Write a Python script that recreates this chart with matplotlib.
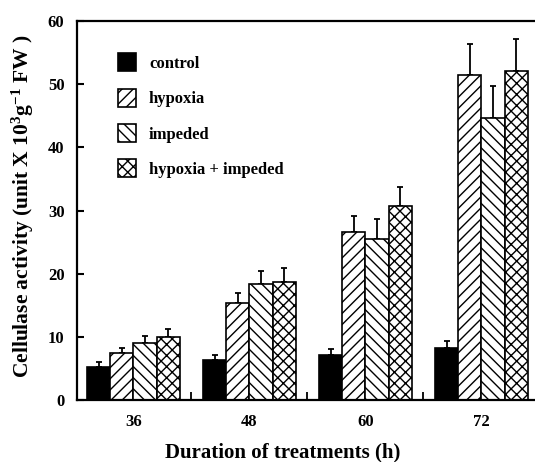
import matplotlib
matplotlib.use("Agg")
import matplotlib.pyplot as plt
import numpy as np
from matplotlib.patches import Patch

plt.rcParams["font.family"] = ["Liberation Serif", "DejaVu Serif"]
plt.rcParams["font.weight"] = "bold"
plt.rcParams["mathtext.fontset"] = "custom"
plt.rcParams["mathtext.rm"] = "Liberation Serif:bold"
plt.rcParams["mathtext.it"] = "Liberation Serif:bold"
plt.rcParams["mathtext.bf"] = "Liberation Serif:bold"
plt.rcParams["hatch.linewidth"] = 1.0

# --- data ---
hours = ["36", "48", "60", "72"]
series = ["control", "hypoxia", "impeded", "hypoxia + impeded"]
control = [5.2, 6.3, 7.2, 8.3]
hypoxia = [7.4, 15.4, 26.6, 51.5]
impeded = [9.0, 18.4, 25.5, 44.7]
both = [10.0, 18.7, 30.8, 52.1]
control_err = [0.8, 0.8, 0.9, 1.0]
hypoxia_err = [0.8, 1.6, 2.6, 4.8]
impeded_err = [1.1, 2.1, 3.1, 5.1]
both_err = [1.2, 2.2, 3.0, 5.1]

means = [control, hypoxia, impeded, both]
errs = [control_err, hypoxia_err, impeded_err, both_err]
hatches = ["", "///", "\\\\\\", "xxx"]
faces = ["black", "white", "white", "white"]

fig = plt.figure(figsize=(5.35, 4.62), dpi=100)
ax = fig.add_axes([0.1439, 0.134, 0.856, 0.8203])

x = np.arange(len(hours))
w = 0.2
for i, (m, e) in enumerate(zip(means, errs)):
    pos = x + (i - 1.5) * w
    ax.bar(pos, m, width=w, color=faces[i], edgecolor="black",
           hatch=hatches[i], linewidth=1.2, zorder=2)
    ax.errorbar(pos, m, yerr=[np.zeros(len(m)), e], fmt="none",
                ecolor="black", elinewidth=1.3, capsize=2.5, capthick=1.3,
                zorder=1)

ax.set_xlim(-0.487, 3.461)
ax.set_ylim(0, 60)
ax.set_yticks(np.arange(0, 61, 10))
ax.set_xticks(x)
ax.set_xticklabels(hours)
ax.set_xticks([0.5, 1.5, 2.5], minor=True)
ax.tick_params(axis="x", which="major", length=0, pad=10, labelsize=12)
ax.tick_params(axis="x", which="minor", direction="in", length=6, width=1.3)
ax.tick_params(axis="y", direction="in", length=5, width=1.5, labelsize=12, pad=9)

for s in ["left", "bottom", "top"]:
    ax.spines[s].set_linewidth(1.6)
ax.spines["right"].set_visible(False)

ax.set_ylabel("Cellulase activity (unit X 10$^{3}$g$^{-1}$ FW )",
              fontsize=15.5, fontweight="bold")
ax.yaxis.set_label_coords(-0.089, 0.513)
ax.set_xlabel("Duration of treatments (h)", fontsize=15, fontweight="bold")
ax.xaxis.set_label_coords(0.45, -0.112)

handles = [Patch(facecolor=faces[i], edgecolor="black", hatch=hatches[i],
                 linewidth=1.2) for i in range(4)]
ax.legend(handles, series, loc="upper left", bbox_to_anchor=(0.057, 0.955),
          frameon=False, handlelength=1.1, handleheight=1.3,
          labelspacing=1.0, handletextpad=0.75, prop={"size": 12, "weight": "bold"})

fig.savefig("out.png", dpi=100)
